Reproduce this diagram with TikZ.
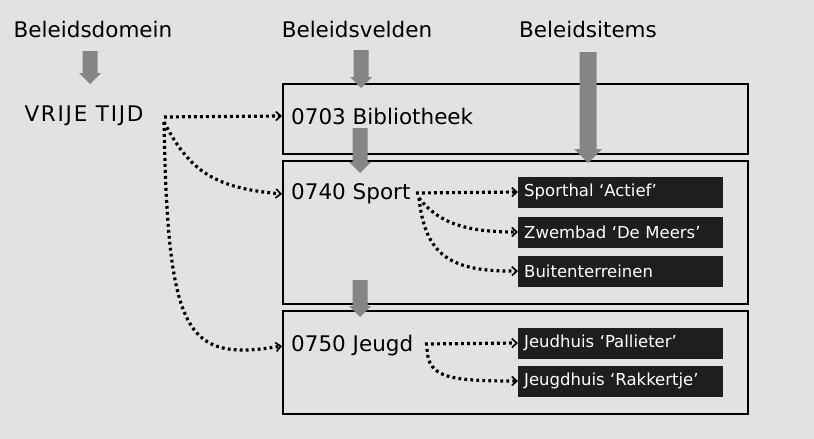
\documentclass[tikz,border=0pt]{standalone}
\usepackage{fontspec}
\setmainfont{DejaVu Sans}
\usetikzlibrary{arrows.meta}
\definecolor{bgcol}{HTML}{E2E2E2}
\definecolor{itemcol}{HTML}{1E1E1E}
\definecolor{blkcol}{HTML}{858585}
\tikzset{
  head/.style={font=\fontsize{21.5}{24}\selectfont, inner sep=0pt, anchor=center},
  field/.style={font=\fontsize{21.5}{24}\selectfont, inner sep=0pt, anchor=west},
  fieldbox/.style={draw=black, line width=1.6pt, anchor=north west, minimum width=465pt, inner sep=0pt},
  item/.style={fill=itemcol, text=white, font=\fontsize{16.5}{19}\selectfont, anchor=west,
    text width=193pt, align=left, inner xsep=6pt, inner ysep=0pt, minimum height=31pt},
  dotarrow/.style={line width=3.2pt, dash pattern=on 2.8pt off 3.2pt,
    -{Straight Barb[length=5pt,width=9pt,line width=1.6pt]}},
  blk/.style={fill=blkcol, draw=none}
}
\newcommand\blkarrow[5]{% x, ytop, ytip, shaft half-width, head half-width
  \fill[blk] (#1-#4,#2) -- (#1+#4,#2) -- (#1+#4,#3-#5) -- (#1+#5,#3-#5) -- (#1,#3) -- (#1-#5,#3-#5) -- (#1-#4,#3-#5) -- cycle;}
\begin{document}
\begin{tikzpicture}[x=1pt,y=-1pt]
\fill[bgcol] (0,0) rectangle (814,439);
\useasboundingbox (0,0) rectangle (814,439);
% headers
\node[head] (hdom) at (93,29) {Beleidsdomein};
\node[head] (hvel) at (357,29) {Beleidsvelden};
\node[head] (hitm) at (588,29) {Beleidsitems};
% domain
\node[head] (vrije) at (84,116) {\addfontfeature{LetterSpace=8}VRIJE TIJD};
% field boxes
\node[fieldbox, minimum height=70pt] (b1) at (282,83) {};
\node[fieldbox, minimum height=143pt] (b2) at (282,160) {};
\node[fieldbox, minimum height=103pt] (b3) at (282,310) {};
% field texts
\node[field] (bib) at (291,116) {0703 Bibliotheek};
\node[field] (sport) at (291,194) {0740 Sport};
\node[field] (jeugd) at (291,346) {0750 Jeugd};
% items
\node[item] (i1) at (518,192) {Sporthal `Actief'};
\node[item] (i2) at (518,232) {Zwembad `De Meers'};
\node[item] (i3) at (518,271) {Buitenterreinen};
\node[item] (i4) at (518,343) {Jeudhuis `Pallieter'};
\node[item] (i5) at (518,381) {Jeugdhuis `Rakkertje'};
% block arrows
\blkarrow{90}{51}{84}{7.5}{11}
\blkarrow{361}{50}{88}{7.5}{11}
\blkarrow{588}{52}{163}{8.5}{14}
\blkarrow{360}{128}{173}{7.5}{11}
\blkarrow{360}{280}{317}{7.5}{11}
% dotted connectors
\coordinate (vs) at (164,117);
\coordinate (vs2) at (164,122);
\draw[dotarrow] (vs) -- (bib.west -| b1.west);
\draw[dotarrow] (vs2) .. controls (190,172) and (215,188) .. (sport.west -| b2.west);
\draw[dotarrow] (vs2) .. controls (168,335) and (185,362) .. (jeugd.west -| b3.west);
\coordinate (ss) at (416,193);
\coordinate (ss2) at (419,198);
\draw[dotarrow] (ss) -- (i1.west);
\draw[dotarrow] (ss2) .. controls (440,225) and (470,232) .. (i2.west);
\draw[dotarrow] (ss2) .. controls (425,255) and (450,272) .. (i3.west);
\coordinate (js) at (425,344);
\coordinate (js2) at (427,349);
\draw[dotarrow] (js) -- (i4.west);
\draw[dotarrow] (js2) .. controls (428,378) and (450,381) .. (i5.west);
\end{tikzpicture}
\end{document}
